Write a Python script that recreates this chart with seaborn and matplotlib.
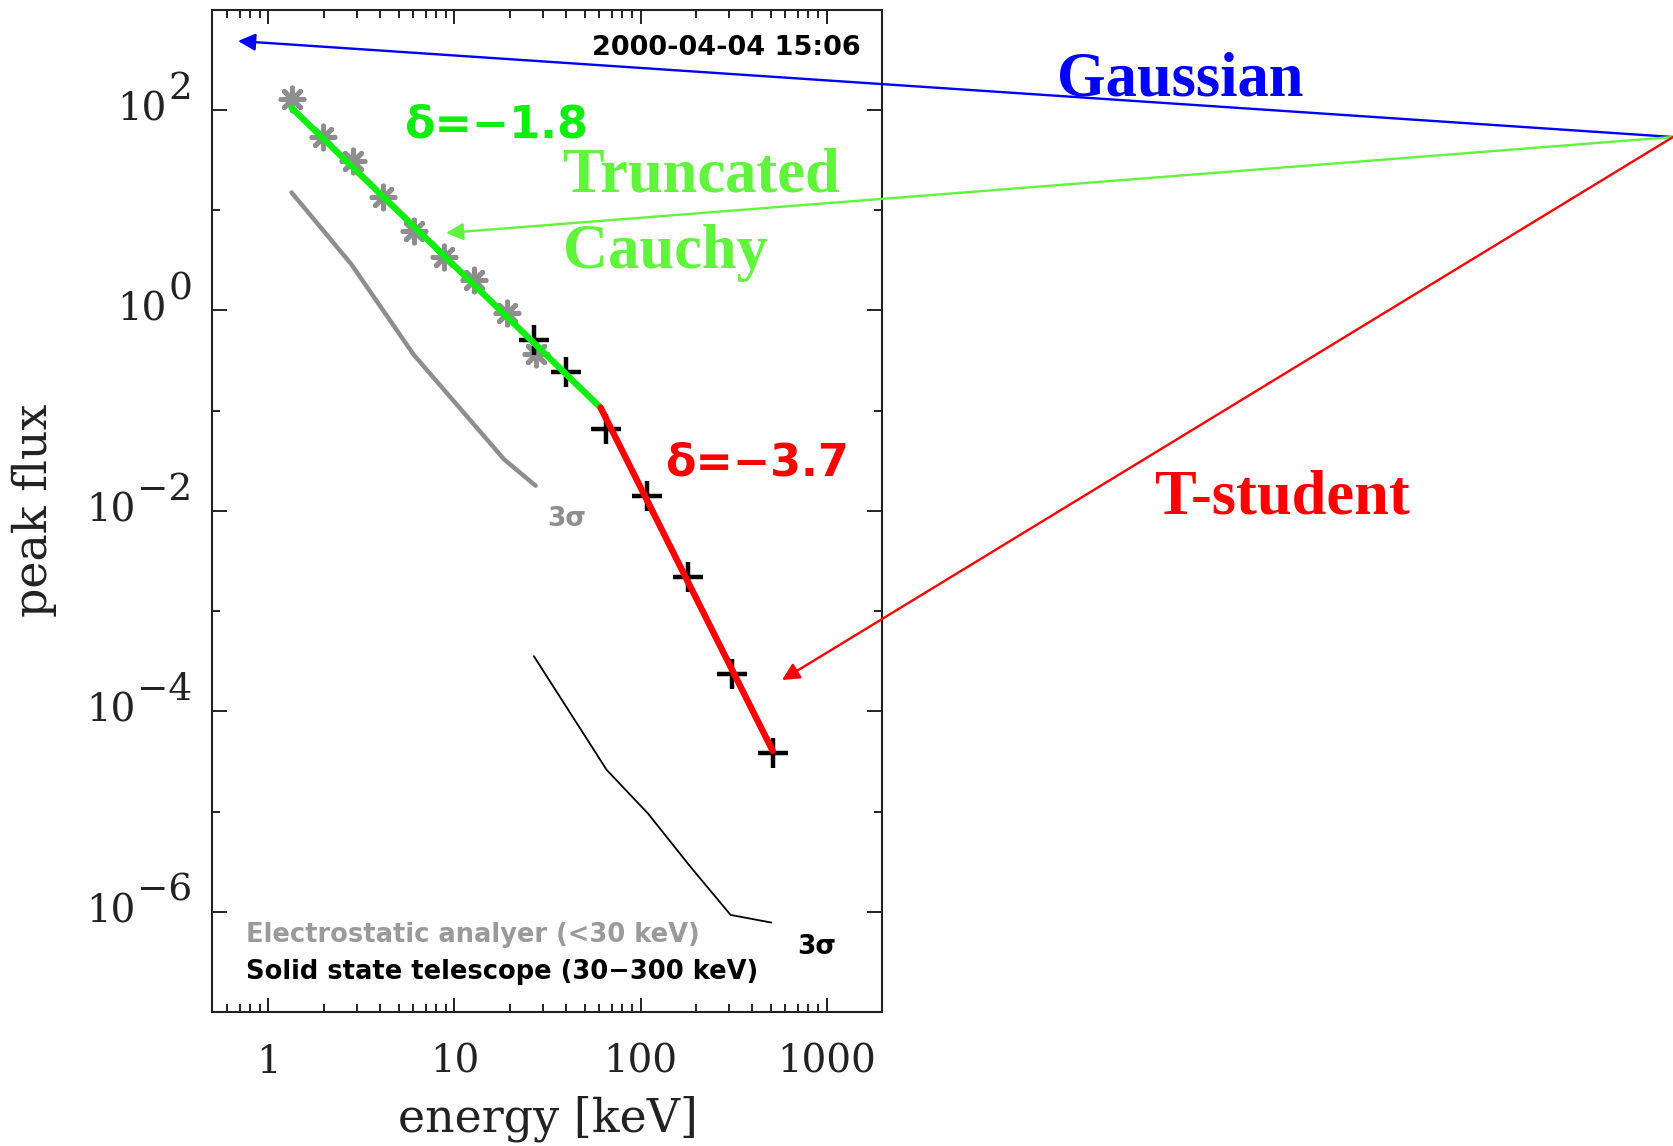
import numpy as np
import pandas as pd
import matplotlib
matplotlib.use("Agg")
import matplotlib.pyplot as plt
from matplotlib import transforms
from matplotlib.ticker import FixedLocator, LogLocator, NullFormatter, FixedFormatter
import seaborn as sns

# --- peak flux spectrum, 2000-04-04 15:06 ---------------------------------
# electrostatic analyser channels (grey asterisks)
esa_energy = [1.33, 1.96, 2.84, 4.15, 6.04, 8.79, 12.8, 19.1, 27.4]
esa_flux = [128, 53.5, 31.0, 13.6, 6.2, 3.38, 1.99, 0.93, 0.365]

# solid state telescope channels (black crosses)
sst_energy = [26.6, 39.8, 65.3, 108, 180, 309, 514]
sst_flux = [0.50, 0.242, 0.066, 0.0139, 0.00217, 2.33e-4, 3.87e-5]

# 3-sigma background levels of each instrument
esa_bg_energy = [1.33, 2.78, 6.04, 18.5, 27.3]
esa_bg_flux = [15.0, 2.9, 0.36, 0.0325, 0.0178]
sst_bg_energy = [26.7, 65.8, 110, 183, 305, 505]
sst_bg_flux = [3.55e-4, 2.6e-5, 9.5e-6, 2.9e-6, 9.3e-7, 7.8e-7]

# broken power-law fit: spectral indices and break
delta_low = -1.8
delta_high = -3.7
break_energy = 61.0
break_flux = 0.107
fit_low_range = [1.33, break_energy]
fit_high_range = [break_energy, 514]

x_ticks = [1, 10, 100, 1000]
x_tick_labels = ["1", "10", "100", "1000"]
y_major = [1e-6, 1e-4, 1e-2, 1e0, 1e2]
y_exponents = ["\u22126", "\u22124", "\u22122", "0", "2"]
y_minor = [1e-5, 1e-3, 1e-1, 1e1]

sns.set_theme(style="ticks")
plt.rcParams["font.family"] = ["DejaVu Sans"]
plt.rcParams["axes.unicode_minus"] = True

W, H = 1674, 1146
fig = plt.figure(figsize=(W / 100, H / 100), dpi=100)
fig.patch.set_facecolor("white")

ax_left, ax_right, ax_top, ax_bottom = 212.5, 882.5, 9.6, 1012.0
ax = fig.add_axes([ax_left / W, 1 - ax_bottom / H,
                   (ax_right - ax_left) / W, (ax_bottom - ax_top) / H])
ax.set_facecolor("white")


def axfrac(px, py):
    """pixel position in the figure -> axes fraction"""
    return ((px - ax_left) / (ax_right - ax_left),
            (ax_bottom - py) / (ax_bottom - ax_top))


def figfrac(px, py):
    return px / W, 1 - py / H


ax.set_xscale("log")
ax.set_yscale("log")
ax.set_xlim(0.5, 2000)
ax.set_ylim(1e-7, 1e3)

grey = "#8e8e8e"

# background levels
bg_esa = pd.DataFrame({"energy": esa_bg_energy, "flux": esa_bg_flux})
bg_sst = pd.DataFrame({"energy": sst_bg_energy, "flux": sst_bg_flux})
sns.lineplot(data=bg_esa, x="energy", y="flux", ax=ax, color=grey, lw=3.2,
             sort=False, estimator=None, zorder=2)
sns.lineplot(data=bg_sst, x="energy", y="flux", ax=ax, color="black", lw=1.3,
             sort=False, estimator=None, zorder=2)

# measured peak fluxes
esa = pd.DataFrame({"energy": esa_energy, "flux": esa_flux})
sst = pd.DataFrame({"energy": sst_energy, "flux": sst_flux})
sns.scatterplot(data=esa, x="energy", y="flux", ax=ax, marker=(8, 2, 0),
                s=270, color=grey, linewidth=3.6, zorder=3)
sns.scatterplot(data=sst, x="energy", y="flux", ax=ax, marker="+",
                s=440, color="black", linewidth=3.2, zorder=3)

# broken power-law fit
e_low = np.array(fit_low_range)
e_high = np.array(fit_high_range)
fit_low = pd.DataFrame({"energy": e_low,
                        "flux": break_flux * (e_low / break_energy) ** delta_low})
fit_high = pd.DataFrame({"energy": e_high,
                         "flux": break_flux * (e_high / break_energy) ** delta_high})
sns.lineplot(data=fit_low, x="energy", y="flux", ax=ax, color="#10ee10", lw=4.6,
             sort=False, estimator=None, zorder=4)
sns.lineplot(data=fit_high, x="energy", y="flux", ax=ax, color="#ff0000", lw=4.6,
             sort=False, estimator=None, zorder=4)

# axes frame and ticks
for sp in ax.spines.values():
    sp.set_linewidth(1.5)
    sp.set_color("#222222")
ax.xaxis.set_major_locator(FixedLocator(x_ticks))
ax.xaxis.set_major_formatter(FixedFormatter(x_tick_labels))
ax.xaxis.set_minor_locator(LogLocator(base=10, subs=np.arange(2, 10), numticks=20))
ax.xaxis.set_minor_formatter(NullFormatter())
ax.yaxis.set_major_locator(FixedLocator(y_major))
ax.yaxis.set_minor_locator(FixedLocator(y_minor))
ax.yaxis.set_major_formatter(NullFormatter())
ax.yaxis.set_minor_formatter(NullFormatter())
ax.tick_params(which="both", direction="in", top=True, right=True,
               color="#222222", width=1.4)
ax.tick_params(axis="x", which="major", length=10, pad=23)
ax.tick_params(axis="x", which="minor", length=5.5)
ax.tick_params(axis="y", which="major", length=11)
ax.tick_params(axis="y", which="minor", length=6)
for lab in ax.get_xticklabels():
    lab.set_fontfamily("DejaVu Serif")
    lab.set_fontsize(28)
    lab.set_color("#222222")

# y tick labels written as 10 with a full-size exponent
ytrans = transforms.blended_transform_factory(ax.transAxes, ax.transData)
exp_x = axfrac(192, 0)[0]
for val, ex in zip(y_major, y_exponents):
    et = ax.text(exp_x, val, ex, transform=transforms.offset_copy(
        ytrans, fig=fig, x=0, y=15, units="points"),
        ha="right", va="center", fontsize=27, family="DejaVu Serif",
        color="#222222", clip_on=False)
    ax.annotate("10", xy=(0, 0.5), xycoords=et, xytext=(-1, -15),
                textcoords="offset points", ha="right", va="center",
                fontsize=28, family="DejaVu Serif", color="#222222",
                annotation_clip=False)

ax.set_xlabel("energy [keV]", fontsize=33, family="DejaVu Serif",
              color="#222222", va="center")
ax.set_ylabel("peak flux", fontsize=33, family="DejaVu Serif",
              color="#222222", va="center")
ax.xaxis.set_label_coords(0.5, axfrac(0, 1119)[1])
ax.yaxis.set_label_coords(axfrac(34, 0)[0], 0.5)

# annotations inside the axes
ax.text(*axfrac(861, 55), "2000-04-04 15:06", transform=ax.transAxes,
        ha="right", va="baseline", fontsize=19.5, fontweight="bold", color="black")
ax.text(*axfrac(404, 137), "\u03b4=\u22121.8", transform=ax.transAxes,
        ha="left", va="baseline", fontsize=32, fontweight="bold", color="#10ee10")
ax.text(*axfrac(665, 475), "\u03b4=\u22123.7", transform=ax.transAxes,
        ha="left", va="baseline", fontsize=32, fontweight="bold", color="#ff0000")
ax.text(*axfrac(547, 526), "3\u03c3", transform=ax.transAxes,
        ha="left", va="baseline", fontsize=19, fontweight="bold", color=grey)
ax.text(*axfrac(797, 954), "3\u03c3", transform=ax.transAxes,
        ha="left", va="baseline", fontsize=19, fontweight="bold", color="black")
ax.text(*axfrac(246, 942), "Electrostatic analyer (<30 keV)", transform=ax.transAxes,
        ha="left", va="baseline", fontsize=18.5, fontweight="bold", color="#9a9a9a")
ax.text(*axfrac(246, 979), "Solid state telescope (30\u2212300 keV)",
        transform=ax.transAxes, ha="left", va="baseline", fontsize=18.5,
        fontweight="bold", color="black")

# model labels and pointers
serif_bold = dict(family="Liberation Serif", fontweight="bold", fontsize=45,
                  va="baseline", ha="left")
fig.text(*figfrac(1057, 95), "Gaussian", color="#0000ff", **serif_bold)
fig.text(*figfrac(563, 192), "Truncated", color="#60f53c", **serif_bold)
fig.text(*figfrac(563, 268), "Cauchy", color="#60f53c", **serif_bold)
fig.text(*figfrac(1155, 513), "T-student", color="#ff0000", **serif_bold)

origin = (1673, H - 137)
targets = [((238, H - 41), "#0000ff"),
           ((446, H - 233), "#60f53c"),
           ((782, H - 680), "#ff0000")]
for (tx, ty), col in targets:
    ax.annotate("", xy=(tx, ty), xycoords="figure pixels",
                xytext=origin, textcoords="figure pixels",
                arrowprops=dict(arrowstyle="-|>", color=col, lw=1.7,
                                mutation_scale=26, shrinkA=0, shrinkB=0),
                annotation_clip=False)

fig.savefig("out.png", dpi=100, facecolor="white")
